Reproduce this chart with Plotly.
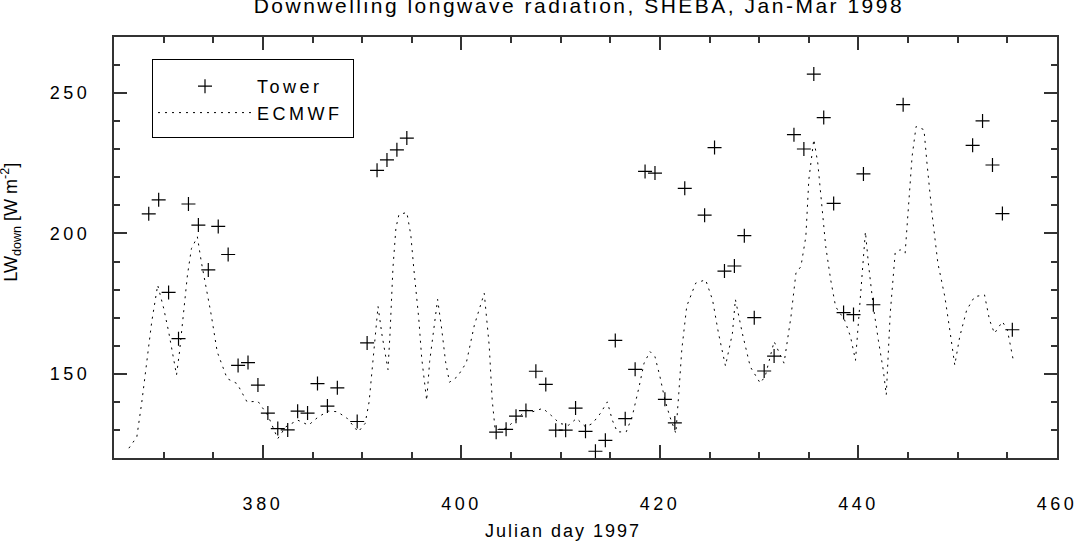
import plotly.graph_objects as go

# ---------------- data ----------------
tower_day = [368.5, 369.5, 370.5, 371.5, 372.5, 373.5, 374.5, 375.5, 376.5, 377.5,
             378.5, 379.5, 380.5, 381.5, 382.5, 383.5, 384.5, 385.5, 386.5, 387.5,
             389.5, 390.5, 391.5, 392.5, 393.5, 394.5,
             403.5, 404.5, 405.5, 406.5, 407.5, 408.5, 409.5, 410.5, 411.5, 412.5,
             413.5, 414.5, 415.5, 416.5, 417.5, 418.5, 419.5, 420.5, 421.5, 422.5,
             424.5, 425.5, 426.5, 427.5, 428.5, 429.5, 430.5, 431.5,
             433.5, 434.5, 435.5, 436.5, 437.5, 438.5, 439.5, 440.5, 441.5,
             444.5,
             451.5, 452.5, 453.5, 454.5, 455.5]
tower_lw = [207.0, 212.0, 179.0, 162.5, 210.5, 203.0, 187.0, 202.5, 192.5, 153.0,
            154.0, 146.0, 136.0, 130.5, 130.0, 136.7, 136.0, 146.5, 138.5, 145.0,
            133.0, 161.0, 222.5, 226.2, 229.8, 234.0,
            129.2, 130.2, 134.9, 136.9, 150.9, 146.2, 129.9, 129.9, 137.8, 129.5,
            122.4, 126.3, 161.9, 134.0, 151.6, 222.1, 221.5, 140.9, 132.5, 216.1,
            206.5, 230.6, 186.6, 188.4, 199.2, 170.0, 151.0, 156.3,
            235.2, 230.1, 256.8, 241.3, 210.7, 171.8, 171.1, 221.2, 174.6,
            245.9,
            231.4, 240.1, 224.4, 207.1, 165.7]

ecmwf_day = [366.5, 367.3, 367.8, 368.3, 368.8, 369.4, 370.0, 370.5, 371.0, 371.3,
             371.6, 372.0, 372.4, 372.8, 373.4, 373.8, 374.3, 374.8, 375.4, 376.4,
             377.4, 378.4, 379.5, 380.5, 381.5, 382.3, 383.5, 384.6, 385.6, 386.6,
             387.5, 388.5, 389.6, 390.3, 390.7, 391.0, 391.3, 391.6, 392.0, 392.6,
             392.8, 393.1, 393.4, 393.7, 394.5, 394.9, 395.2, 395.7, 396.0, 396.5,
             396.8, 397.2, 397.6, 398.0, 398.4, 398.8, 399.6, 400.5, 401.3, 402.3,
             402.8, 403.1, 403.4, 404.5, 405.5, 406.6, 407.2, 408.2, 409.1, 409.9,
             410.8, 411.6, 412.5, 413.2, 414.0, 414.7, 415.2, 415.7, 416.6, 417.2,
             417.9, 418.4, 419.0, 419.5, 420.0, 420.5, 421.0, 421.6, 421.9, 422.2,
             422.7, 423.6, 424.6, 425.3, 425.9, 426.6, 427.3, 427.6, 428.3, 429.1,
             430.1, 430.6, 431.5, 432.5, 433.2, 433.7, 434.2, 434.7, 435.0, 435.5,
             435.9, 436.2, 436.7, 437.2, 437.7, 438.6, 439.2, 439.7, 440.2, 440.7,
             441.0, 441.5, 442.0, 442.5, 442.8, 443.2, 443.7, 444.2, 444.7, 445.1,
             445.4, 445.8, 446.6, 446.9, 447.4, 448.0, 448.7, 449.2, 449.7, 450.2,
             450.9, 451.7, 452.7, 453.2, 453.7, 454.5, 455.0, 455.6]
ecmwf_lw = [123.5, 127.5, 139.9, 154.2, 168.5, 181.6, 173.4, 165.1, 156.1, 149.6,
            157.8, 170.9, 185.2, 194.6, 198.8, 189.8, 180.3, 170.9, 157.8, 148.3,
            146.5, 140.0, 140.2, 135.2, 126.9, 131.1, 133.5, 131.7, 134.7, 136.7,
            136.5, 134.1, 129.3, 132.3, 140.0, 151.9, 163.8, 174.0, 163.8, 151.5,
            163.8, 187.6, 201.9, 206.7, 207.5, 199.5, 187.6, 169.8, 155.5, 140.5,
            154.4, 166.3, 176.5, 166.3, 154.4, 147.0, 149.0, 154.0, 167.3, 178.7,
            160.0, 140.7, 130.0, 130.6, 133.6, 137.1, 136.5, 137.7, 135.0, 132.3,
            131.7, 134.1, 131.1, 132.3, 135.9, 140.0, 133.5, 129.3, 129.3, 134.7,
            145.4, 153.8, 157.9, 156.1, 149.0, 140.7, 134.7, 128.8, 143.1, 158.6,
            174.1, 182.3, 183.5, 176.3, 164.4, 152.8, 164.4, 176.5, 164.4, 152.5,
            146.7, 149.1, 161.5, 153.8, 170.4, 185.9, 188.2, 198.9, 219.2, 233.5,
            225.1, 213.2, 195.4, 183.5, 173.9, 169.2, 163.2, 154.8, 177.4, 200.6,
            189.3, 173.9, 162.0, 151.3, 142.5, 171.6, 193.2, 194.2, 193.0, 215.0,
            227.4, 238.1, 237.0, 225.1, 207.3, 189.4, 177.5, 165.6, 153.1, 163.2,
            172.7, 177.5, 178.1, 169.2, 164.4, 168.6, 165.6, 154.8]

x_range = [365, 460]
y_range = [120, 270]

title_text = "Downwelling longwave radiation, SHEBA, Jan-Mar 1998"
x_title = "Julian day 1997"
y_title = "LW<sub>down</sub> [W m<sup>-2</sup>]"

FONT = "Liberation Sans, Arial, Helvetica, sans-serif"
AX = "#333333"

fig = go.Figure()
fig.add_trace(go.Scatter(
    x=tower_day, y=tower_lw, mode="markers", name="Tower",
    marker=dict(symbol="cross-thin", size=10, color="black",
                line=dict(width=1.2, color="black"))))
fig.add_trace(go.Scatter(
    x=ecmwf_day, y=ecmwf_lw, mode="lines", name="ECMWF",
    line=dict(color="black", width=1, dash="2px,5px")))

axis_common = dict(
    showgrid=False, zeroline=False, showline=True, linewidth=2, linecolor=AX,
    mirror="ticks", ticks="inside", ticklen=13, tickwidth=1.5, tickcolor=AX,
    tickfont=dict(family=FONT, size=18, color="black"),
)

fig.update_xaxes(range=x_range, tick0=0, dtick=20,
                 minor=dict(dtick=5, ticks="inside", ticklen=6, tickwidth=1.5,
                            tickcolor=AX, showgrid=False),
                 ticklabelstandoff=28,
                 **axis_common)
fig.update_yaxes(range=y_range, tick0=0, dtick=50,
                 minor=dict(dtick=10, ticks="inside", ticklen=6, tickwidth=1.5,
                            tickcolor=AX, showgrid=False),
                 ticklabelstandoff=18,
                 **axis_common)

fig.update_layout(
    width=1085, height=550,
    margin=dict(l=114, r=28, t=37, b=92, autoexpand=False),
    paper_bgcolor="white", plot_bgcolor="white",
    font=dict(family=FONT, size=18, color="black"),
    title=dict(text=title_text, xref="paper", x=0.493, xanchor="center",
               yref="container", y=1 - 5.7 / 550, yanchor="middle",
               font=dict(family=FONT, size=21, color="black")),
    showlegend=True,
    legend=dict(x=(152 - 114) / 943, y=(458 - 67) / 421, xanchor="left", yanchor="top",
                bordercolor="black", borderwidth=1, bgcolor="white",
                itemwidth=94, font=dict(family=FONT, size=18, color="black"),
                tracegroupgap=0),
    annotations=[
        dict(text=x_title, xref="paper", yref="paper",
             x=(563 - 114) / 943, y=(458 - 531) / 421, xanchor="center", yanchor="middle",
             showarrow=False, font=dict(family=FONT, size=18, color="black")),
        dict(text=y_title, textangle=-90, xref="paper", yref="paper",
             x=(25 - 114) / 943, y=0.56, xanchor="right", yanchor="middle",
             showarrow=False, font=dict(family=FONT, size=18, color="black")),
    ],
)

post = """
var gd = document.getElementById('{plot_id}');
function sp(sel, v){ gd.querySelectorAll(sel).forEach(function(t){ t.style.letterSpacing = v; }); }
sp('.xtick text, .ytick text', '3.5px');
sp('.g-gtitle text', '2.5px');
sp('.legendtext', '3.5px');
gd.querySelectorAll('.annotation-text').forEach(function(t){
  if(t.textContent.indexOf('Julian') === 0){ t.style.letterSpacing = '2px'; }
});
var bg = gd.querySelector('.legend rect.bg');
if(bg){ bg.setAttribute('width', 201); bg.setAttribute('y', -7.5); bg.setAttribute('height', 78); }
document.querySelectorAll('clipPath[id^="legend"] rect').forEach(function(r){
  r.setAttribute('width', 201); r.setAttribute('y', -7.5); r.setAttribute('height', 78);
});
"""

fig.write_html("out.html", post_script=post)
